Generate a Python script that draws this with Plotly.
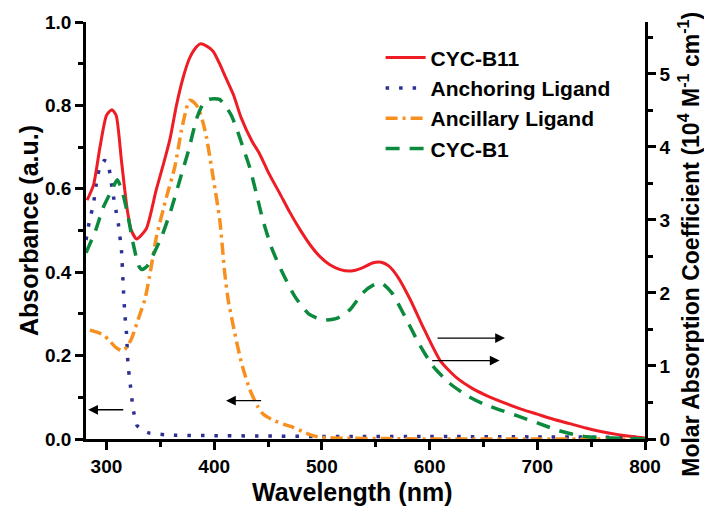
import plotly.graph_objects as go

# ---------------- data ----------------
# CYC-B11 (right axis, 10^4 M^-1 cm^-1)
b11_wl = [282, 288, 294, 300, 305, 309, 314, 319, 323, 328, 337, 346, 353, 359, 365, 371, 377, 382, 387,
          393, 399, 405, 411, 418, 425, 435, 442, 451, 461, 470, 480, 489, 498, 507, 517, 527, 537, 547,
          555, 562, 570, 582, 595, 610, 625, 640, 655, 670, 685, 700, 715, 730, 745, 760, 775, 790, 800]
b11_eps = [3.27, 3.48, 4.00, 4.43, 4.51, 4.43, 3.80, 3.17, 2.86, 2.74, 2.88, 3.40, 3.77, 4.11, 4.57, 4.94,
           5.21, 5.34, 5.41, 5.38, 5.31, 5.14, 4.94, 4.71, 4.40, 4.08, 3.91, 3.63, 3.36, 3.11, 2.86, 2.66,
           2.50, 2.39, 2.32, 2.30, 2.34, 2.41, 2.42, 2.37, 2.23, 1.91, 1.50, 1.07, 0.84, 0.69, 0.58, 0.49,
           0.41, 0.34, 0.27, 0.21, 0.15, 0.10, 0.06, 0.03, 0.015]

# CYC-B1 (right axis)
b1_wl = [281, 290, 297, 306, 310, 315, 320, 325, 330, 333, 338, 345, 352, 360, 368, 376, 384, 390, 395,
         400, 405, 410, 416, 422, 428, 433, 439, 445, 453, 462, 475, 488, 501, 515, 526, 538, 548, 555,
         565, 576, 590, 603, 618, 634, 650, 665, 681, 700, 721, 735, 746, 760, 780, 800]
b1_eps = [2.55, 2.86, 3.17, 3.44, 3.55, 3.37, 3.05, 2.66, 2.37, 2.32, 2.37, 2.57, 2.80, 3.14, 3.54, 3.94,
          4.40, 4.60, 4.65, 4.66, 4.65, 4.57, 4.43, 4.20, 3.94, 3.72, 3.37, 3.01, 2.63, 2.32, 1.95, 1.71,
          1.63, 1.66, 1.77, 2.00, 2.11, 2.14, 2.00, 1.71, 1.31, 1.00, 0.77, 0.60, 0.48, 0.40, 0.32, 0.22,
          0.11, 0.06, 0.03, 0.02, 0.01, 0.0]

# Anchoring ligand (left axis, absorbance)
anc_wl = [281, 284, 288, 291, 294, 298, 301.5, 303, 306, 309, 311, 314, 315.5, 317, 318.6, 320, 321.6,
          324.7, 328.4, 334, 340, 360, 400, 450, 500, 600, 700, 800]
anc_abs = [0.477, 0.52, 0.565, 0.62, 0.655, 0.668, 0.664, 0.64, 0.589, 0.545, 0.517, 0.45, 0.37, 0.30,
           0.253, 0.177, 0.143, 0.072, 0.032, 0.02, 0.014, 0.009, 0.008, 0.007, 0.006, 0.006, 0.005, 0.004]

# Ancillary ligand (left axis, absorbance)
acl_wl = [284.6, 290, 297, 303, 309, 314, 317, 320, 323, 326, 329.3, 335.6, 340, 346.4, 355.7, 363.4,
          369.6, 374, 376.7, 380, 385, 389, 392.8, 399, 405.2, 409.8, 413, 419, 425.3, 433, 440, 445.4,
          455, 465, 473.3, 482, 491.8, 500, 520, 560, 600, 700, 800]
acl_abs = [0.261, 0.257, 0.25, 0.235, 0.219, 0.212, 0.215, 0.225, 0.239, 0.26, 0.286, 0.334, 0.39, 0.485,
           0.58, 0.652, 0.74, 0.79, 0.812, 0.81, 0.795, 0.765, 0.724, 0.628, 0.525, 0.398, 0.334, 0.255,
           0.183, 0.119, 0.08, 0.06, 0.045, 0.035, 0.028, 0.018, 0.008, 0.004, 0.002, 0.001, 0.0, 0.0, 0.0]

# arrows (head wavelength, tail wavelength, absorbance level)
arrow_head = [283, 411, 670, 665]
arrow_tail = [317, 445, 606, 601]
arrow_level = [0.07, 0.092, 0.242, 0.188]

# ---------------- figure ----------------
FONT = "Liberation Sans, Arial, sans-serif"
RED = "#EE1D25"
BLUE = "#2E3192"
ORANGE = "#F7901E"
GREEN = "#0B8A3E"

fig = go.Figure()
fig.add_trace(go.Scatter(x=b11_wl, y=b11_eps, name="CYC-B11", yaxis="y2", mode="lines",
                         line=dict(color=RED, width=3, shape="spline", smoothing=0.6)))
fig.add_trace(go.Scatter(x=anc_wl, y=anc_abs, name="Anchoring Ligand", mode="lines",
                         line=dict(color=BLUE, width=3.5, dash="3.5px,10px", shape="spline", smoothing=0.3)))
fig.add_trace(go.Scatter(x=acl_wl, y=acl_abs, name="Ancillary Ligand", mode="lines",
                         line=dict(color=ORANGE, width=3.5, dash="12px,5px,3px,5px", shape="spline",
                                   smoothing=0.6)))
fig.add_trace(go.Scatter(x=b1_wl, y=b1_eps, name="CYC-B1", yaxis="y2", mode="lines",
                         line=dict(color=GREEN, width=3.5, dash="14px,10px", shape="spline", smoothing=0.6)))

for h, t, lv in zip(arrow_head, arrow_tail, arrow_level):
    fig.add_annotation(x=h, y=lv, ax=t, ay=lv, xref="x", yref="y", axref="x", ayref="y",
                       text="", showarrow=True, arrowhead=2, arrowsize=1.4, arrowwidth=1.4,
                       arrowcolor="black")

# right axis title
fig.add_annotation(
    text="Molar Absorption Coefficient (10<sup>4</sup> M<sup>-1</sup> cm<sup>-1</sup>)",
    xref="paper", yref="paper", x=1.0785, y=0.468, xanchor="center", yanchor="middle",
    textangle=-90, showarrow=False,
    font=dict(family=FONT, size=23, color="black", weight="bold"))

# bottom axis title
fig.add_annotation(
    text="Wavelength (nm)", xref="paper", yref="paper", x=0.476, y=-0.128,
    xanchor="center", yanchor="middle", showarrow=False,
    font=dict(family=FONT, size=25, color="black", weight="bold"))

axis_common = dict(showline=True, linecolor="black", linewidth=2.5, showgrid=False, zeroline=False,
                   tickcolor="black", tickwidth=2.5,
                   tickfont=dict(family=FONT, size=19, color="black", weight="bold"))

fig.update_layout(
    width=704, height=508,
    margin=dict(l=86, r=59, t=20, b=69),
    paper_bgcolor="white", plot_bgcolor="white",
    font=dict(family=FONT, color="black"),
    xaxis=dict(range=[281, 800], dtick=100, tick0=0, ticks="outside", ticklen=8,
               minor=dict(dtick=50, tick0=0, ticks="outside", ticklen=5, tickwidth=2.5, tickcolor="black"),
               **axis_common),
    xaxis2=dict(range=[281, 800], overlaying="x", side="top", anchor="y", dtick=100, tick0=0,
                ticks="inside", ticklen=9, showticklabels=False,
                minor=dict(dtick=50, tick0=0, ticks="inside", ticklen=6, tickwidth=2.5, tickcolor="black"),
                **axis_common),
    yaxis=dict(range=[0, 1.0], dtick=0.2, tick0=0, tickformat=".1f", ticks="outside", ticklen=8,
               minor=dict(dtick=0.1, tick0=0, ticks="outside", ticklen=5, tickwidth=2.5, tickcolor="black"),
               title=dict(text="Absorbance (a.u.)", font=dict(family=FONT, size=25, weight="bold"),
                          standoff=0),
               **axis_common),
    yaxis2=dict(range=[0, 5.71], dtick=1, tick0=0, overlaying="y", side="right", anchor="x",
                ticks="outside", ticklen=8,
                minor=dict(dtick=0.5, tick0=0, ticks="outside", ticklen=5, tickwidth=2.5, tickcolor="black"),
                **axis_common),
    legend=dict(x=0.527, y=0.963, xanchor="left", yanchor="top", bgcolor="rgba(0,0,0,0)",
                font=dict(family=FONT, size=21, color="black", weight="bold"),
                itemwidth=40, tracegroupgap=0),
    showlegend=True,
)

fig.write_html("out.html", config={"displayModeBar": False},
               post_script="document.body.style.margin='0px';document.body.style.padding='0px';")
